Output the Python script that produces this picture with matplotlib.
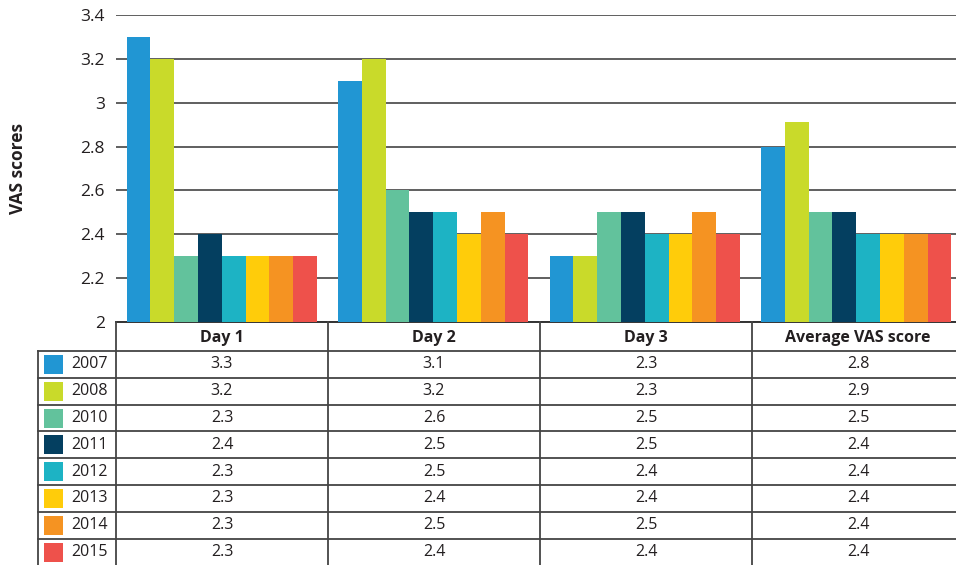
import matplotlib
matplotlib.use("Agg")
import matplotlib.pyplot as plt
from matplotlib.patches import Rectangle
import numpy as np

plt.rcParams['font.family'] = ['Open Sans', 'DejaVu Sans']

categories = ["Day 1", "Day 2", "Day 3", "Average VAS score"]
years = ["2007", "2008", "2010", "2011", "2012", "2013", "2014", "2015"]
colors = ["#2196D3", "#C9DA2A", "#62C29C", "#043F60", "#1DB3C4", "#FFCC0A", "#F59322", "#EE514B"]

# bar heights per year (Day 1, Day 2, Day 3, Average)
bar_values = {
    "2007": [3.3, 3.1, 2.3, 2.8],
    "2008": [3.2, 3.2, 2.3, 2.91],
    "2010": [2.3, 2.6, 2.5, 2.5],
    "2011": [2.4, 2.5, 2.5, 2.5],
    "2012": [2.3, 2.5, 2.4, 2.4],
    "2013": [2.3, 2.4, 2.4, 2.4],
    "2014": [2.3, 2.5, 2.5, 2.4],
    "2015": [2.3, 2.4, 2.4, 2.4],
}
# values printed in the data table
table_values = {
    "2007": ["3.3", "3.1", "2.3", "2.8"],
    "2008": ["3.2", "3.2", "2.3", "2.9"],
    "2010": ["2.3", "2.6", "2.5", "2.5"],
    "2011": ["2.4", "2.5", "2.5", "2.4"],
    "2012": ["2.3", "2.5", "2.4", "2.4"],
    "2013": ["2.3", "2.4", "2.4", "2.4"],
    "2014": ["2.3", "2.5", "2.5", "2.4"],
    "2015": ["2.3", "2.4", "2.4", "2.4"],
}
y_ticks = [2, 2.2, 2.4, 2.6, 2.8, 3, 3.2, 3.4]
y_ticklabels = ["2", "2.2", "2.4", "2.6", "2.8", "3", "3.2", "3.4"]

W, H = 956, 565
fig = plt.figure(figsize=(W / 100, H / 100), dpi=100)

ax_left, ax_right = 116, 962
ax_top, ax_bottom = 15, 322
ax = fig.add_axes([ax_left / W, 1 - ax_bottom / H, (ax_right - ax_left) / W, (ax_bottom - ax_top) / H])

n = len(years)
group_w = 0.9
bw = group_w / n
x = np.arange(len(categories))
for i, yr in enumerate(years):
    offs = -group_w / 2 + bw * (i + 0.5)
    ax.bar(x + offs, np.array(bar_values[yr]) - 2, width=bw, bottom=2,
           color=colors[i], linewidth=0, zorder=3)

txt_c = "#231F20"
ax.set_xlim(-0.5, len(categories) - 0.5)
ax.set_ylim(2, 3.4)
ax.set_yticks(y_ticks)
ax.set_yticklabels(y_ticklabels, fontsize=12.5, color=txt_c)
ax.set_xticks([])
ax.tick_params(axis='y', length=0, pad=8)
for s in ["left", "right", "top"]:
    ax.spines[s].set_visible(False)
ax.spines["bottom"].set_color("#333333")
ax.spines["bottom"].set_linewidth(1.4)
ax.yaxis.grid(True, color="#444444", linewidth=1.2, zorder=0)
ax.set_axisbelow(True)

fig.text(18 / W, 1 - 168 / H, "VAS scores", rotation=90, fontsize=12.5, fontweight="bold",
         ha="center", va="center", color=txt_c)

# table overlay in pixel coordinates
tab = fig.add_axes([0, 0, 1, 1], facecolor="none")
tab.set_xlim(0, W)
tab.set_ylim(H, 0)
tab.axis("off")

col_edges = [116, 328, 540, 752, 962]
header_top, header_bot = 322, 351
row_h = 26.8
line_c = "#444444"

# vertical lines
tab.plot([38, 38], [header_bot, H], color=line_c, lw=1.3)
for cx in col_edges[:-1]:
    tab.plot([cx, cx], [header_top, H], color=line_c, lw=1.3)

# horizontal lines
for r in range(n):
    yline = header_bot + r * row_h
    tab.plot([38, W], [yline, yline], color=line_c, lw=1.3)

def col_center(j):
    if j == len(categories) - 1:
        return (752 + 956) / 2 + 4
    return (col_edges[j] + col_edges[j + 1]) / 2

for j, cat in enumerate(categories):
    tab.text(col_center(j), (header_top + header_bot) / 2 + 1, cat, ha="center", va="center",
             fontsize=11.5, fontweight="bold", color=txt_c)

for i, yr in enumerate(years):
    yc = header_bot + (i + 0.5) * row_h
    tab.add_patch(Rectangle((44, yc - 9.5), 19, 19, color=colors[i], lw=0))
    tab.text(71, yc, yr, ha="left", va="center", fontsize=11.5, color=txt_c)
    for j in range(len(categories)):
        tab.text(col_center(j), yc, table_values[yr][j], ha="center", va="center",
                 fontsize=11.5, color=txt_c)

fig.savefig("out.png", dpi=100)
